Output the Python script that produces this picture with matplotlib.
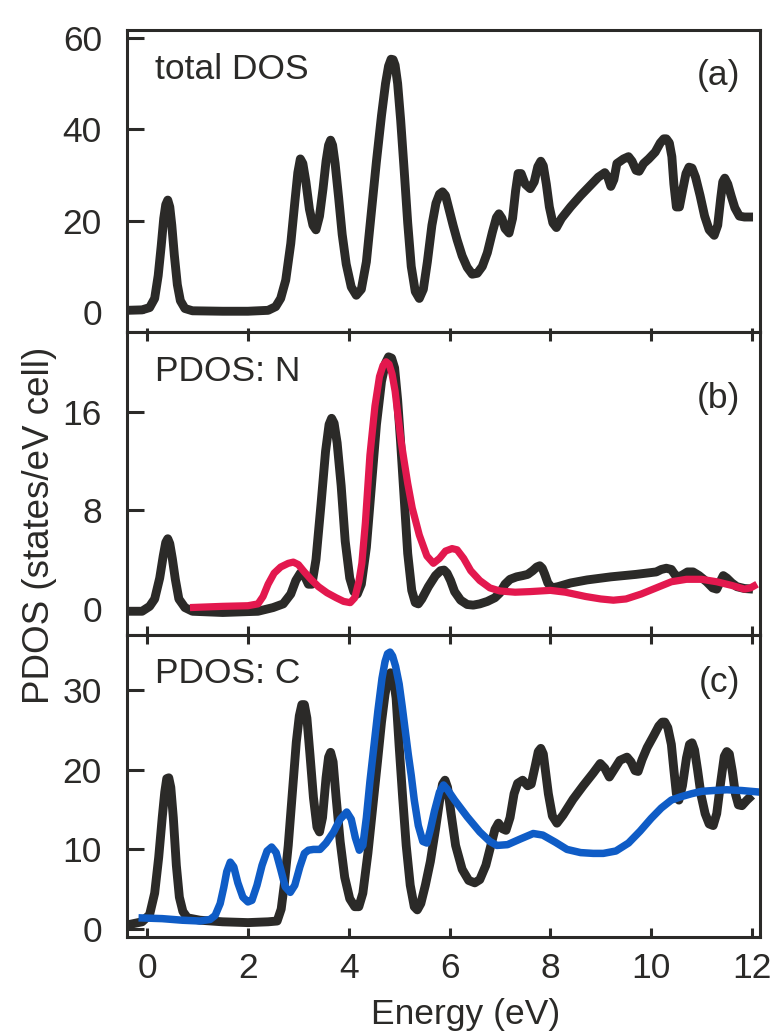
import numpy as np
import matplotlib
matplotlib.use("Agg")
import matplotlib.pyplot as plt

plt.rcParams["font.family"] = ["Liberation Sans", "DejaVu Sans"]

INK = "#2b2a28"
RED = "#e3184e"
BLUE = "#0f5cc6"

# (a) total DOS
e_total = [-0.4, -0.1, 0.05, 0.15, 0.22, 0.28, 0.33, 0.37, 0.41, 0.45, 0.49, 0.54, 0.6, 0.66, 0.75, 0.9,
           1.5, 2.0, 2.4, 2.55, 2.65, 2.75, 2.85, 2.93, 2.99, 3.04, 3.09, 3.15, 3.22, 3.29, 3.35, 3.42,
           3.49, 3.55, 3.6, 3.64, 3.68, 3.73, 3.8, 3.87, 3.95, 4.05, 4.15, 4.25, 4.35, 4.45, 4.55, 4.65,
           4.73, 4.79, 4.84, 4.88, 4.92, 4.97, 5.03, 5.1, 5.17, 5.24, 5.32, 5.4, 5.48, 5.56, 5.65, 5.73, 5.8, 5.86,
           5.92, 5.99, 6.07, 6.15, 6.25, 6.35, 6.45, 6.55, 6.65, 6.75, 6.85, 6.93, 6.98, 7.04, 7.1, 7.18,
           7.25, 7.31, 7.36, 7.42, 7.5, 7.6, 7.68, 7.75, 7.81, 7.86, 7.92, 7.98, 8.05, 8.12, 8.22,
           8.4, 8.6, 8.8, 8.95, 9.08, 9.14, 9.2, 9.26, 9.32, 9.45, 9.55, 9.62, 9.7, 9.76,
           9.85, 9.95, 10.08, 10.18, 10.25, 10.3, 10.36, 10.41, 10.45, 10.5, 10.56, 10.63, 10.69,
           10.75, 10.81, 10.88, 10.97, 11.06, 11.15, 11.25, 11.32, 11.38, 11.42, 11.46, 11.52, 11.59, 11.66,
           11.75, 11.85, 12.02]
dos_total = [0.4, 0.5, 1.0, 3, 8, 14.5, 20.5, 23.5, 24.5, 23, 19, 12.5, 6, 2.5, 0.8, 0.3,
             0.2, 0.2, 0.4, 1.2, 3, 7, 15, 24, 30.5, 33.5, 32.5, 28.5, 22.5, 19, 18, 21,
             27, 33, 36.5, 37.6, 36.5, 32.5, 25, 17, 10.5, 5.5, 3.7, 5, 11, 22, 33, 43,
             50, 53.8, 55.3, 55.2, 54, 50, 42, 31, 19.5, 10, 4.5, 3, 5, 11, 19, 23.8, 25.8, 26.3,
             25.5, 22.5, 19, 15.8, 12.3, 9.8, 8.3, 8.5, 10, 13, 17.5, 20.7, 21.5, 20.5, 18.3, 17.3,
             20.5, 26.5, 30.3, 30.3, 28, 27, 28.5, 31.8, 33, 32, 28, 23, 19.5, 18.5, 20.5,
             23, 25.5, 27.8, 29.5, 30.5, 29.5, 27.5, 29, 32.5, 33.5, 34, 33, 31, 30.8,
             32.5, 33.5, 35, 37, 37.9, 37.9, 37, 34, 28, 23, 23, 27, 30.3,
             31.7, 31.5, 29.5, 25.5, 21, 18, 16.8, 19, 25, 28.5, 29.3, 28, 25.3, 22.8,
             21, 20.8, 20.8]

# (b) nitrogen-site DOS and N projection
e_n_tot = [-0.4, -0.1, 0.05, 0.15, 0.25, 0.32, 0.37, 0.41, 0.45, 0.5, 0.56, 0.63, 0.75, 0.9, 1.5, 2.2,
           2.5, 2.7, 2.85, 2.95, 3.04, 3.12, 3.2, 3.27, 3.35, 3.45, 3.54, 3.61, 3.66, 3.71, 3.77,
           3.85, 3.93, 4.02, 4.1, 4.17, 4.25, 4.35, 4.45, 4.55, 4.65, 4.73, 4.79, 4.85, 4.91, 4.97,
           5.03, 5.1, 5.17, 5.25, 5.32, 5.38, 5.45, 5.58, 5.72, 5.82, 5.89, 5.95, 6.02, 6.1, 6.22,
           6.35, 6.47, 6.6, 6.75, 6.9, 7.0, 7.1, 7.2, 7.33, 7.45, 7.55, 7.65, 7.73, 7.79, 7.84,
           7.89, 7.95, 8.03, 8.15, 8.4, 8.73, 9.2, 9.7, 10.1, 10.2, 10.3, 10.4, 10.5, 10.6,
           10.72, 10.83, 10.95, 11.1, 11.22, 11.3, 11.37, 11.43, 11.5, 11.6, 11.7, 11.85, 12.02]
dos_n_tot = [-0.2, -0.2, 0.2, 0.8, 2.5, 4.3, 5.4, 5.7, 5.3, 4.1, 2.4, 0.8, 0.1, -0.2, -0.3, -0.2,
             0.1, 0.4, 1.2, 2.3, 2.9, 2.7, 2.0, 2.0, 4, 8.5, 12.8, 15.0, 15.5, 15.1, 13.5,
             10, 5.5, 2.5, 1.4, 1.2, 2, 5, 10, 15, 18.5, 20.0, 20.5, 20.4, 19.6, 17,
             13.5, 9, 4.5, 1.5, 0.5, 0.4, 0.8, 1.8, 2.7, 3.1, 3.15, 2.9, 2.3, 1.4, 0.7,
             0.35, 0.3, 0.4, 0.6, 0.9, 1.3, 2.0, 2.4, 2.6, 2.7, 2.8, 3.1, 3.4, 3.5, 3.3,
             2.8, 2.1, 1.7, 1.8, 2.1, 2.35, 2.6, 2.8, 3.0, 3.2, 3.3, 3.2, 2.6, 2.7,
             3.0, 3.0, 2.7, 2.2, 1.7, 1.6, 2.2, 2.7, 2.5, 2.1, 1.8, 1.65, 1.6]
e_n = [0.85, 1.5, 2.0, 2.2, 2.3, 2.4, 2.52, 2.65, 2.8, 2.9, 3.0, 3.12, 3.25, 3.4, 3.57,
       3.75, 3.9, 4.03, 4.12, 4.2, 4.26, 4.33, 4.42, 4.52, 4.61, 4.68, 4.74, 4.8, 4.86, 4.92,
       4.98, 5.04, 5.1, 5.17, 5.26, 5.4, 5.55, 5.68, 5.8, 5.92, 6.05, 6.15, 6.28, 6.42, 6.6,
       6.8, 7.0, 7.3, 7.6, 8.0, 8.3, 8.7, 9.0, 9.25, 9.5, 9.8, 10.1, 10.4, 10.7, 11.0,
       11.3, 11.6, 11.85, 11.97, 12.1]
pdos_n = [0.1, 0.2, 0.25, 0.4, 1.0, 2.0, 2.9, 3.4, 3.7, 3.8, 3.6, 3.0, 2.4, 1.8, 1.3,
          0.9, 0.6, 0.5, 0.9, 2.2, 3.7, 7, 12.5, 16.5, 18.9, 19.8, 20.1, 19.9, 19.1, 17.7,
          15.6, 13.6, 12.0, 10.2, 8.2, 6, 4.3, 3.7, 4.1, 4.7, 4.9, 4.8, 4.1, 3.1, 2.3,
          1.7, 1.45, 1.35, 1.4, 1.5, 1.35, 1.0, 0.8, 0.7, 0.8, 1.2, 1.7, 2.2, 2.4, 2.4,
          2.2, 1.9, 1.6, 1.7, 2.0]

# (c) carbon-site DOS and C projection
e_c_tot = [-0.4, -0.1, 0.05, 0.15, 0.23, 0.3, 0.35, 0.39, 0.43, 0.47, 0.52, 0.58, 0.64, 0.71, 0.8, 1.05,
           1.5, 2.0, 2.4, 2.58, 2.66, 2.72, 2.8, 2.88, 2.96, 3.02, 3.07, 3.12, 3.17, 3.23, 3.3,
           3.37, 3.42, 3.48, 3.55, 3.6, 3.64, 3.69, 3.75, 3.83, 3.92, 4.02, 4.12, 4.2, 4.28, 4.38,
           4.48, 4.57, 4.65, 4.72, 4.78, 4.83, 4.88, 4.94, 5.0, 5.07, 5.14, 5.22, 5.3, 5.36, 5.43,
           5.52, 5.62, 5.72, 5.8, 5.86, 5.91, 5.96, 6.03, 6.12, 6.25, 6.38, 6.5, 6.6, 6.72, 6.82,
           6.9, 6.97, 7.05, 7.12, 7.2, 7.28, 7.35, 7.45, 7.55, 7.62, 7.7, 7.76, 7.81, 7.86, 7.91,
           7.96, 8.04, 8.13, 8.25, 8.45, 8.65, 8.85, 8.99, 9.08, 9.17, 9.26, 9.38, 9.52, 9.6,
           9.68, 9.74, 9.82, 9.92, 10.05, 10.15, 10.22, 10.27, 10.33, 10.4, 10.45, 10.5, 10.55,
           10.62, 10.7, 10.76, 10.81, 10.86, 10.92, 10.99, 11.07, 11.15, 11.23, 11.3, 11.38, 11.45,
           11.5, 11.55, 11.61, 11.67, 11.73, 11.8, 11.9, 12.0]
dos_c_tot = [0.5, 0.9, 1.8, 4.5, 9, 14, 17.2, 18.9, 19.0, 17.8, 14, 8, 4, 2.2, 1.4, 1.1,
             0.9, 0.8, 0.9, 1.0, 2.5, 5.5, 10.5, 17, 23.5, 26.8, 28.2, 28.2, 26.5, 22, 16.5,
             12.8, 12.2, 14, 19, 21.6, 22.2, 21, 16.5, 11, 6.5, 3.8, 2.8, 2.8, 4.5, 9.5,
             15.5, 21, 26, 29.5, 31.5, 32.2, 31.8, 29, 23, 16.5, 10.5, 5.5, 2.8, 2.4, 3.2,
             5.5, 8.5, 12.5, 16, 18.2, 18.7, 17.8, 14.5, 10.5, 7.5, 6.1, 5.8, 6.2, 8, 10.5,
             12.5, 13.3, 12.6, 12.4, 14, 17, 18.3, 18.7, 18, 18.2, 20.5, 22.3, 22.7, 22, 19.5,
             17, 14.2, 13.3, 14.3, 16.3, 18, 19.6, 20.8, 20.2, 19.1, 20, 21.2, 21.6, 21,
             19.9, 19.8, 21.3, 22.8, 24.3, 25.5, 26, 26, 25.3, 23.2, 20, 17, 16.2,
             18, 21.5, 23.2, 23.4, 22.5, 20, 16.8, 14.5, 13.2, 13, 14.5, 18.5, 21.7,
             22.3, 22, 19.8, 17, 15.6, 15.5, 16.2, 16.8]
e_c = [-0.17, 0.3, 0.7, 1.05, 1.25, 1.35, 1.45, 1.52, 1.58, 1.65, 1.72, 1.8, 1.9, 2.0,
       2.08, 2.18, 2.28, 2.38, 2.47, 2.56, 2.65, 2.74, 2.84, 2.93, 3.03, 3.12, 3.2, 3.3,
       3.43, 3.55, 3.7, 3.83, 3.96, 4.05, 4.13, 4.21, 4.28, 4.35, 4.42, 4.5, 4.58, 4.66,
       4.72, 4.77, 4.82, 4.87, 4.93, 5.0, 5.06, 5.12, 5.18, 5.24, 5.3, 5.38, 5.47, 5.55, 5.62, 5.7,
       5.8, 5.88, 5.95, 6.1, 6.35, 6.6, 6.8, 6.94, 7.15, 7.4, 7.66, 7.85, 8.1, 8.33,
       8.6, 8.85, 9.05, 9.3, 9.55, 9.78, 10.0, 10.2, 10.4, 10.58, 10.8, 11.0, 11.23,
       11.5, 11.8, 12.16]
pdos_c = [1.4, 1.3, 1.1, 1.0, 1.2, 1.7, 3.2, 5.2, 7.2, 8.4, 7.8, 5.8, 4.0, 3.4,
          3.6, 5.5, 8.0, 9.8, 10.3, 9.6, 7.5, 5.3, 4.6, 5.5, 7.8, 9.5, 9.9, 10.0,
          10.0, 10.8, 12.2, 13.8, 14.7, 13.8, 11.5, 9.9, 10.5, 14, 18.5, 23, 27.5, 31.5,
          33.6, 34.6, 34.8, 34.3, 33.0, 30.8, 28, 25, 22, 19.3, 16.2, 13, 11.0, 10.8, 12.5, 14.8,
          17.2, 18.1, 17.6, 16.2, 14.1, 12.2, 11.0, 10.5, 10.6, 11.3, 12.0, 11.8, 10.9, 10.0,
          9.6, 9.5, 9.5, 9.8, 10.8, 12.3, 13.9, 15.2, 16.2, 16.6, 17.0, 17.3, 17.4,
          17.5, 17.4, 17.2]

panel_tags = ["(a)", "(b)", "(c)"]
panel_titles = ["total DOS", "PDOS: N", "PDOS: C"]
y_ticks = [[0, 20, 40, 60], [0, 8, 16], [0, 10, 20, 30]]
y_limits = [(-4.4, 61.7), (-2.1, 22.5), (-1.0, 37.0)]
x_ticks = [0, 2, 4, 6, 8, 10, 12]

fig = plt.figure(figsize=(7.74, 10.33), dpi=100)
gs = fig.add_gridspec(3, 1, left=0.164, right=0.982, top=0.971, bottom=0.093, hspace=0)
axes = [fig.add_subplot(gs[i]) for i in range(3)]

line_kw = dict(solid_joinstyle="round", solid_capstyle="butt")
axes[0].plot(e_total, dos_total, color=INK, lw=6.4, **line_kw)
axes[1].plot(e_n_tot, dos_n_tot, color=INK, lw=6.4, **line_kw)
axes[1].plot(e_n, pdos_n, color=RED, lw=5.2, **line_kw)
axes[2].plot(e_c_tot, dos_c_tot, color=INK, lw=6.4, **line_kw)
axes[2].plot(e_c, pdos_c, color=BLUE, lw=5.4, **line_kw)

tag_y = [0.85, 0.78, 0.84]
for i, ax in enumerate(axes):
    ax.set_xlim(-0.4, 12.16)
    ax.set_ylim(*y_limits[i])
    ax.set_yticks(y_ticks[i])
    ax.set_xticks(x_ticks)
    for sp in ax.spines.values():
        sp.set_linewidth(2.2)
        sp.set_color(INK)
    ax.tick_params(axis="y", direction="in", length=12, width=2.2, color=INK,
                   labelsize=25.5, labelcolor=INK, pad=18)
    ax.tick_params(axis="x", direction="in", length=6.5, width=2.2, color=INK,
                   top=(i > 0), labelsize=25.5, labelcolor=INK, pad=11,
                   labelbottom=(i == 2))
    if i == 0:
        ax.tick_params(axis="x", which="major", bottom=True, length=3)
    ax.text(0.044, 0.87, panel_titles[i], transform=ax.transAxes, fontsize=25.5,
            color=INK, ha="left", va="center")
    ax.text(0.968, tag_y[i], panel_tags[i], transform=ax.transAxes, fontsize=25.5,
            color=INK, ha="right", va="center")

fig.text(0.051, 0.491, "PDOS (states/eV cell)", rotation=90, fontsize=26.5,
         color=INK, ha="center", va="center")
fig.text(0.601, 0.0087, "Energy (eV)", fontsize=25.5, color=INK,
         ha="center", va="baseline")

fig.savefig("out.png", dpi=100)
